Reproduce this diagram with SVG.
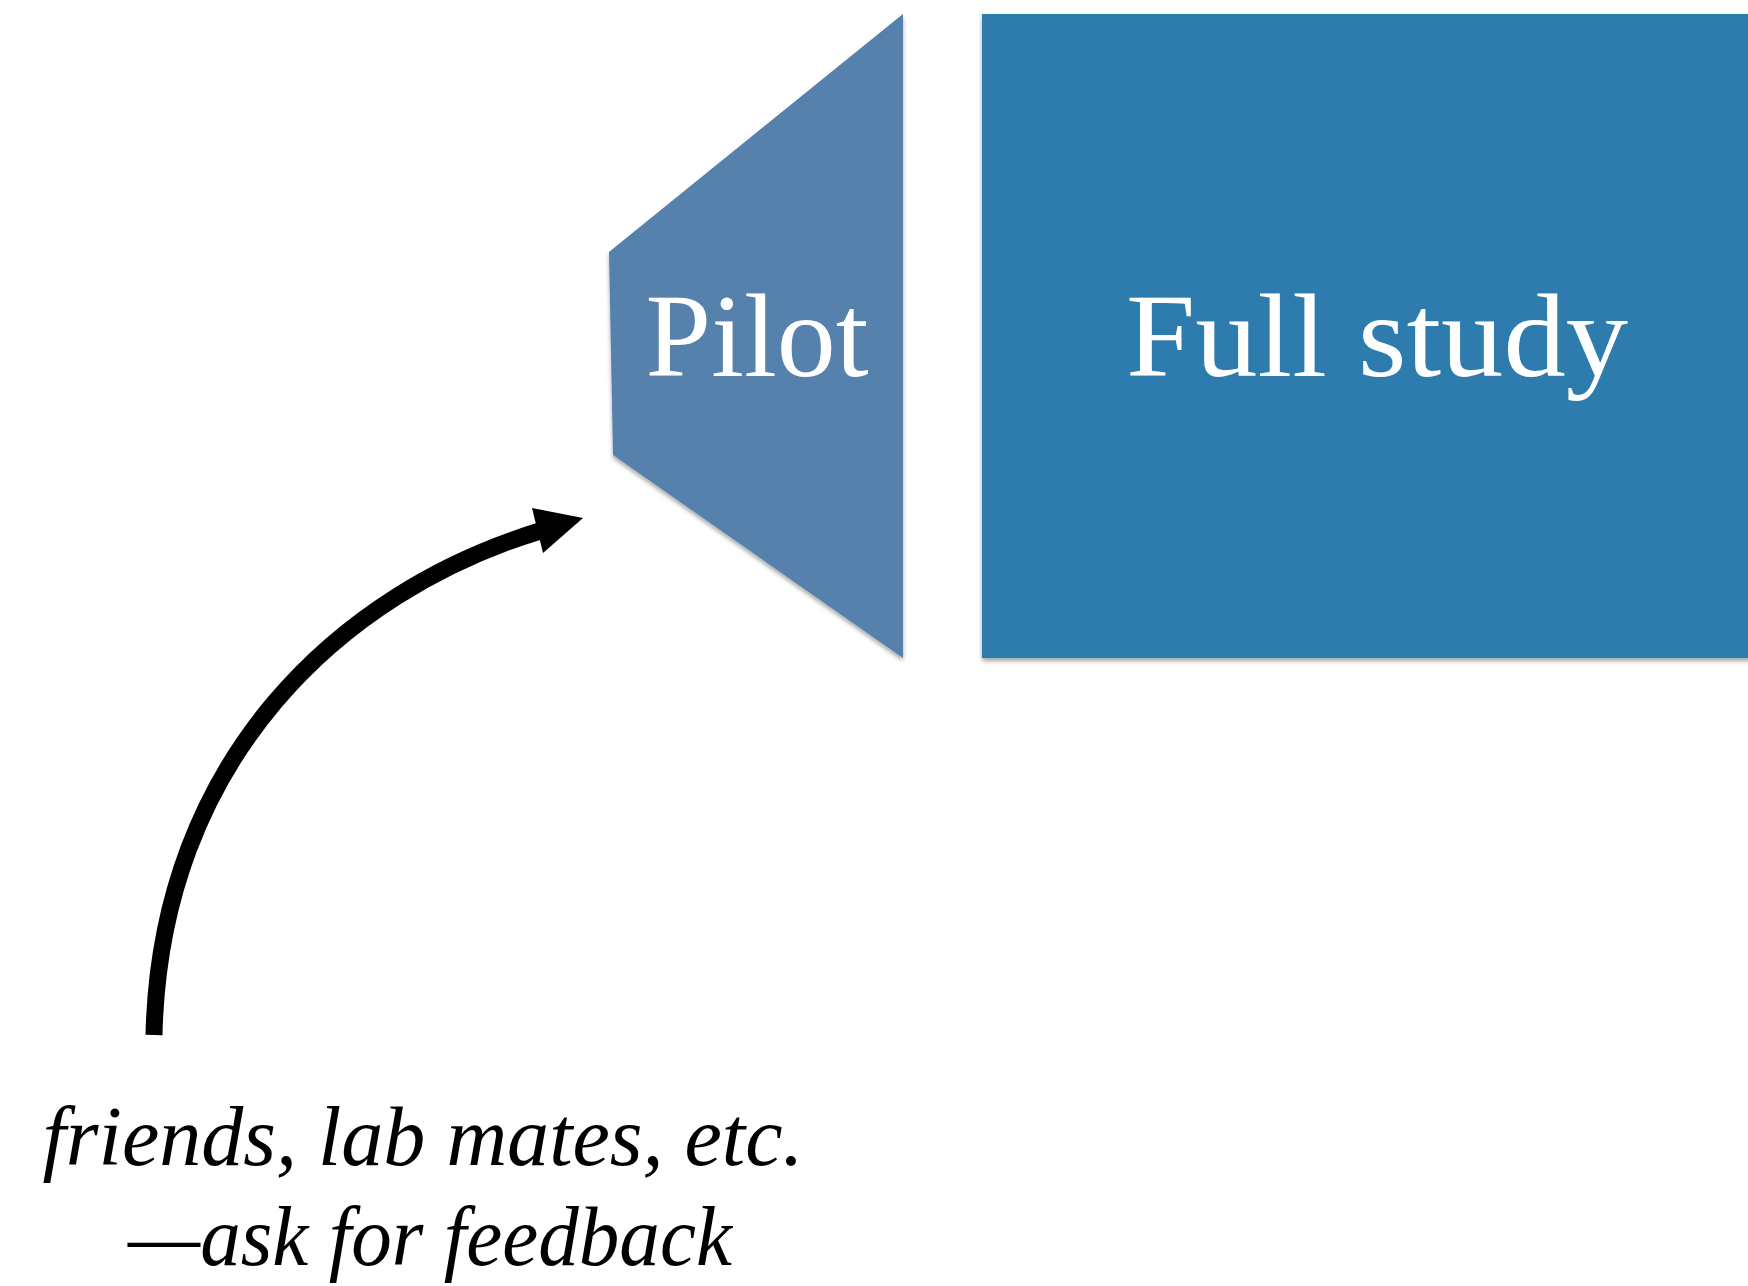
<svg xmlns="http://www.w3.org/2000/svg" width="1748" height="1286" viewBox="0 0 1748 1286">
<style>
.lbl{font-family:"Liberation Serif","Times New Roman",serif;fill:#ffffff;font-size:118px;text-anchor:middle}
.cap{font-family:"Liberation Serif","Times New Roman",serif;font-style:italic;fill:#000000;font-size:84px;text-anchor:middle}
</style>
<defs>
<filter id="sh" x="-5%" y="-5%" width="110%" height="110%">
<feDropShadow dx="0" dy="3" stdDeviation="2" flood-color="#000" flood-opacity="0.35"/>
</filter>
</defs>
<rect width="1748" height="1286" fill="#ffffff"/>
<g id="pilot">
<polygon points="903,14 903,658 613,455 609,252" fill="#5681ad" filter="url(#sh)"/>
<text class="lbl" x="757" y="376">Pilot</text>
</g>
<g id="full-study">
<rect x="982" y="14" width="780" height="644" fill="#2f7bad" filter="url(#sh)"/>
<text class="lbl" x="1377" y="376" textLength="502" lengthAdjust="spacingAndGlyphs">Full study</text>
</g>
<g id="connectors">
<path d="M154,1035 C160,760 340,592 540,531" fill="none" stroke="#000" stroke-width="17"/>
<polygon points="583,518 532,508 543,553" fill="#000"/>
</g>
<g id="caption">
<text class="cap" x="423" y="1165" textLength="761" lengthAdjust="spacingAndGlyphs">friends, lab mates, etc.</text>
<text class="cap" x="430" y="1265" textLength="604" lengthAdjust="spacingAndGlyphs">—ask for feedback</text>
</g>
</svg>
